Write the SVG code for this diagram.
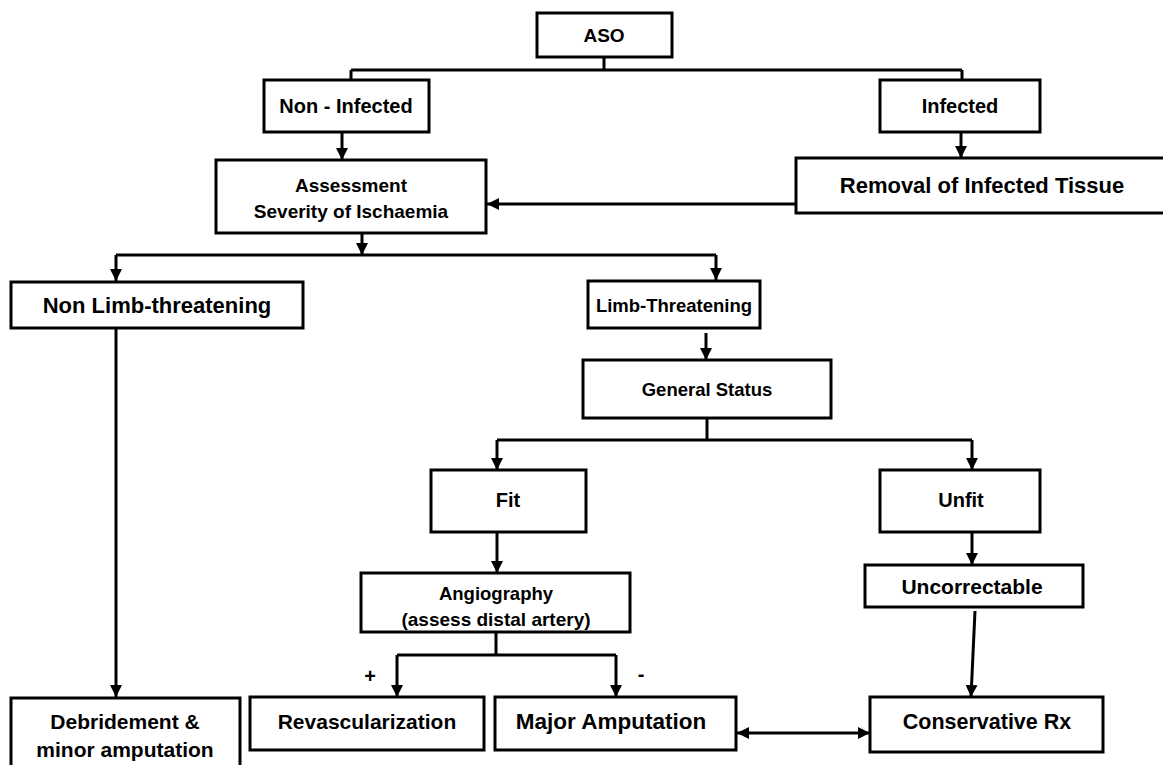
<svg xmlns="http://www.w3.org/2000/svg" width="1163" height="765" viewBox="0 0 1163 765">
<style>
.box{fill:#fff;stroke:#000;stroke-width:3}
.t{font-family:"Liberation Sans",Arial,sans-serif;font-weight:bold;font-size:20px;text-anchor:middle;fill:#000}
.c{fill:none;stroke:#000;stroke-width:3}
.ca{fill:none;stroke:#000;stroke-width:3;marker-end:url(#ah)}
</style>
<defs>
<marker id="ah" viewBox="0 0 10 10" refX="10" refY="5" markerWidth="4" markerHeight="4" markerUnits="strokeWidth" orient="auto">
<path d="M0,0 L10,5 L0,10 z" fill="#000"/>
</marker>
<marker id="as" viewBox="0 0 10 10" refX="0" refY="5" markerWidth="4" markerHeight="4" markerUnits="strokeWidth" orient="auto">
<path d="M10,0 L0,5 L10,10 z" fill="#000"/>
</marker>
</defs>
<rect width="1163" height="765" fill="#fff"/>
<g id="connectors">
<path class="c" d="M604,57 V70 M351,70 H962 M351,70 V80 M962,70 V80"/>
<path class="ca" d="M342,132 V160"/>
<path class="ca" d="M961,132 V158"/>
<path class="ca" d="M796,204 H487"/>
<path class="ca" d="M362,233 V255"/>
<path class="c" d="M116,255 H716"/>
<path class="ca" d="M116,255 V281"/>
<path class="ca" d="M716,255 V280"/>
<path class="ca" d="M116,328 V697"/>
<path class="ca" d="M706,333 V360"/>
<path class="c" d="M707,418 V440 M497,440 H972"/>
<path class="ca" d="M497,440 V470"/>
<path class="ca" d="M972,440 V470"/>
<path class="ca" d="M497,532 V573"/>
<path class="ca" d="M972,532 V565"/>
<path class="c" d="M496,632 V655 M397,655 H616"/>
<path class="ca" d="M397,655 V697"/>
<path class="ca" d="M616,655 V697"/>
<path class="ca" d="M975,611 L971,697"/>
<path class="ca" d="M737,733 H870" marker-start="url(#as)"/>
</g>
<g id="n-aso"><rect class="box" x="537" y="13" width="135" height="44"/><text class="t" x="604" y="42" style="font-size:19px">ASO</text></g>
<g id="n-noninf"><rect class="box" x="264" y="80" width="165" height="52"/><text class="t" x="346" y="113">Non - Infected</text></g>
<g id="n-inf"><rect class="box" x="880" y="80" width="160" height="52"/><text class="t" x="960" y="113">Infected</text></g>
<g id="n-assess"><rect class="box" x="216" y="160" width="270" height="73"/><text class="t" x="351" y="192" style="font-size:19px">Assessment</text><text class="t" x="351" y="218" style="font-size:19px">Severity of Ischaemia</text></g>
<g id="n-removal"><rect class="box" x="796" y="158" width="380" height="55"/><text class="t" x="982" y="193" style="font-size:22px">Removal of Infected Tissue</text></g>
<g id="n-nonlimb"><rect class="box" x="11" y="282" width="292" height="46"/><text class="t" x="157" y="313" style="font-size:22px">Non Limb-threatening</text></g>
<g id="n-limb"><rect class="box" x="588" y="281" width="172" height="47"/><text class="t" x="674" y="312" style="font-size:18.5px">Limb-Threatening</text></g>
<g id="n-general"><rect class="box" x="583" y="360" width="248" height="58"/><text class="t" x="707" y="396" style="font-size:18.5px">General Status</text></g>
<g id="n-fit"><rect class="box" x="431" y="470" width="155" height="62"/><text class="t" x="508" y="507">Fit</text></g>
<g id="n-unfit"><rect class="box" x="880" y="470" width="160" height="62"/><text class="t" x="961" y="507">Unfit</text></g>
<g id="n-angio"><rect class="box" x="361" y="573" width="269" height="59"/><text class="t" x="496" y="600" style="font-size:18.5px">Angiography</text><text class="t" x="496" y="626" style="font-size:19px">(assess distal artery)</text></g>
<g id="n-uncorr"><rect class="box" x="865" y="565" width="218" height="42"/><text class="t" x="972" y="594" style="font-size:21px">Uncorrectable</text></g>
<g id="n-debride"><rect class="box" x="11" y="698" width="229" height="72"/><text class="t" x="125" y="729" style="font-size:21px">Debridement &amp;</text><text class="t" x="125" y="757" style="font-size:21px">minor amputation</text></g>
<g id="n-revasc"><rect class="box" x="250" y="697" width="234" height="53"/><text class="t" x="367" y="729" style="font-size:21px">Revascularization</text></g>
<g id="n-major"><rect class="box" x="495" y="697" width="241" height="53"/><text class="t" x="611" y="729" style="font-size:22.5px">Major Amputation</text></g>
<g id="n-conserv"><rect class="box" x="870" y="697" width="233" height="55"/><text class="t" x="987" y="729" style="font-size:21.5px">Conservative  Rx</text></g>
<text class="t" x="370" y="683">+</text>
<text class="t" x="641" y="681">-</text>
</svg>
